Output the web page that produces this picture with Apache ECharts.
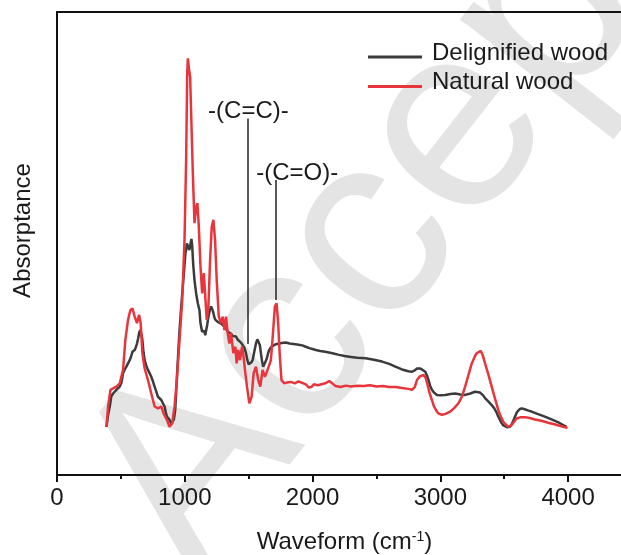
<!DOCTYPE html>
<html>
<head>
<meta charset="utf-8">
<script src="https://cdn.jsdelivr.net/npm/echarts@6/dist/echarts.min.js"></script>
<style>
  html, body { margin: 0; padding: 0; background: #fff; overflow: hidden; }
  #chart { width: 621px; height: 555px; }
</style>
</head>
<body>
<div id="chart"></div>
<script>
// FTIR absorptance spectra (arbitrary units, 0-100 scale)
const delignifiedWavenumber = [
  387, 400, 413, 425, 439, 452, 465, 478, 491, 505, 517, 530, 543, 556, 569, 580, 590, 600, 608, 617,
  626, 635, 642, 652, 660, 668, 677, 686, 700, 712, 725, 738, 750, 764, 777, 790, 803, 816, 830, 842,
  852, 860, 870, 881, 894, 905, 915, 925, 932, 940, 950, 959, 970, 980, 993, 1005, 1010, 1016, 1022, 1029,
  1036, 1044, 1052, 1058, 1066, 1076, 1089, 1102, 1115, 1122, 1128, 1135, 1141, 1148, 1154, 1160, 1167, 1176, 1185, 1195,
  1206, 1215, 1224, 1232, 1240, 1250, 1262, 1275, 1290, 1305, 1320, 1335, 1349, 1362, 1375, 1390, 1401, 1415, 1428, 1440,
  1453, 1466, 1479, 1490, 1500, 1510, 1520, 1531, 1545, 1557, 1568, 1578, 1588, 1596, 1605, 1614, 1625, 1640, 1652, 1661,
  1675, 1690, 1700, 1720, 1739, 1760, 1790, 1820, 1850, 1880, 1900, 1920, 1947, 1975, 2000, 2025, 2060, 2100, 2155, 2200,
  2250, 2300, 2350, 2415, 2480, 2544, 2600, 2648, 2700, 2750, 2778, 2800, 2817, 2840, 2856, 2870, 2882, 2895, 2908, 2920,
  2934, 2950, 2973, 3000, 3038, 3080, 3116, 3155, 3194, 3235, 3272, 3311, 3335, 3350, 3375, 3402, 3420, 3440, 3454, 3467,
  3480, 3493, 3506, 3525, 3545, 3560, 3572, 3584, 3600, 3620, 3636, 3660, 3690, 3714, 3760, 3818, 3870, 3920, 3961, 3987
];
const delignifiedAbs = [
  10.4, 13.0, 14.8, 17.0, 17.6, 18.0, 18.4, 18.6, 19.1, 20.0, 22.0, 22.8, 23.4, 23.8, 24.8, 25.6, 26.6, 26.8, 27.0, 27.6,
  28.4, 29.5, 30.6, 31.3, 30.5, 29.2, 26.5, 24.8, 23.5, 22.7, 22.0, 21.2, 20.3, 19.1, 18.0, 16.9, 16.5, 16.2, 16.4, 14.8,
  13.5, 12.6, 12.3, 11.9, 11.0, 11.2, 12.0, 14.0, 17.5, 22.0, 27.0, 31.3, 35.5, 39.2, 43.6, 47.9, 48.5, 50.0, 50.4, 49.6,
  48.6, 49.8, 51.0, 49.5, 45.5, 42.1, 39.2, 37.1, 35.6, 33.0, 32.0, 31.0, 30.6, 31.2, 31.1, 30.2, 30.6, 32.5, 34.2, 35.5,
  36.4, 35.8, 35.0, 34.0, 33.5, 33.8, 33.0, 33.3, 32.6, 32.2, 31.8, 31.0, 30.8, 30.5, 30.0, 29.8, 29.9, 29.2, 28.8, 28.6,
  28.4, 27.5, 26.3, 24.8, 23.9, 23.8, 24.3, 24.8, 26.8, 28.4, 29.3, 29.5, 28.0, 26.3, 24.5, 23.4, 23.6, 25.0, 26.3, 27.0,
  27.6, 27.9, 28.1, 28.3, 28.4, 28.5, 28.6, 28.4, 28.3, 28.2, 28.1, 28.0, 27.7, 27.4, 27.2, 27.0, 26.8, 26.6, 26.3, 26.0,
  25.7, 25.5, 25.3, 25.2, 24.9, 24.5, 24.0, 23.4, 22.8, 22.4, 22.3, 22.6, 23.0, 23.0, 22.8, 23.2, 22.3, 21.5, 20.5, 19.3,
  18.4, 17.8, 17.3, 17.2, 17.3, 17.5, 17.6, 17.4, 17.3, 17.6, 18.0, 17.8, 17.2, 16.6, 15.9, 15.1, 14.5, 13.5, 12.6, 12.2,
  11.2, 10.7, 10.4, 10.3, 10.4, 11.0, 11.8, 12.6, 13.6, 14.2, 14.4, 14.2, 13.9, 13.7, 13.2, 12.6, 12.0, 11.4, 10.8, 10.4
];

const naturalWavenumber = [
  387, 400, 418, 439, 465, 491, 517, 535, 556, 574, 590, 608, 626, 642, 655, 668, 686, 712, 738, 764,
  790, 816, 834, 860, 881, 902, 920, 938, 959, 980, 998, 1011, 1019, 1024, 1034, 1042, 1052, 1063, 1076, 1089,
  1099, 1110, 1123, 1136, 1149, 1159, 1172, 1185, 1198, 1211, 1224, 1237, 1250, 1266, 1284, 1297, 1310, 1323, 1336, 1349,
  1362, 1380, 1396, 1406, 1419, 1432, 1448, 1460, 1474, 1487, 1505, 1523, 1539, 1557, 1575, 1591, 1609, 1627, 1648, 1674,
  1692, 1705, 1718, 1731, 1744, 1757, 1778, 1800, 1830, 1860, 1890, 1920, 1950, 1970, 1990, 2010, 2040, 2070, 2100, 2130,
  2150, 2180, 2220, 2260, 2300, 2350, 2400, 2450, 2500, 2550, 2600, 2650, 2700, 2750, 2778, 2800, 2817, 2840, 2869, 2885,
  2900, 2915, 2934, 2950, 2973, 2990, 3012, 3040, 3077, 3110, 3142, 3170, 3194, 3220, 3246, 3270, 3285, 3316, 3333, 3350,
  3375, 3402, 3428, 3454, 3475, 3493, 3512, 3532, 3558, 3580, 3597, 3630, 3662, 3700, 3740, 3790, 3844, 3900, 3974, 3995
];
const naturalAbs = [
  10.4, 14.8, 18.4, 18.7, 19.1, 19.8, 22.7, 29.2, 33.5, 35.6, 36.0, 34.2, 32.8, 34.6, 32.8, 26.3, 23.0, 20.5, 17.6, 14.8,
  14.4, 14.8, 13.3, 11.9, 10.4, 11.2, 14.8, 20.5, 29.2, 37.8, 50.8, 68.7, 86.8, 90.0, 87.5, 86.0, 76.0, 65.2, 54.4, 57.9,
  58.7, 53.6, 45.0, 39.2, 43.6, 39.2, 33.5, 36.4, 46.4, 53.6, 55.1, 50.8, 42.1, 34.2, 32.8, 34.2, 31.3, 34.2, 30.6, 28.4,
  30.6, 26.3, 27.7, 24.1, 27.0, 24.8, 27.7, 25.5, 22.0, 19.1, 15.5, 16.9, 22.0, 23.4, 20.5, 19.1, 22.7, 21.2, 22.7, 24.8,
  31.3, 36.4, 37.1, 32.8, 25.5, 20.5, 19.8, 20.0, 20.1, 19.8, 20.2, 19.9, 19.5, 18.9, 19.0, 19.6, 19.4, 19.6, 19.8, 20.3,
  19.9, 19.2, 19.0, 19.3, 19.1, 19.3, 19.2, 19.4, 19.1, 19.2, 19.0, 19.0, 18.8, 18.6, 18.4, 19.0, 20.5, 21.3, 21.6, 21.0,
  19.5, 17.8, 16.2, 14.8, 13.7, 13.2, 13.0, 13.2, 13.7, 14.5, 15.5, 17.0, 19.1, 21.6, 24.1, 25.6, 26.3, 26.8, 25.8, 24.1,
  21.8, 19.1, 16.5, 14.0, 12.5, 11.5, 10.9, 10.4, 10.8, 11.6, 12.2, 12.5, 12.5, 12.3, 12.0, 11.7, 11.3, 10.9, 10.3, 10.2
];

// Band markers: wavenumber, top and bottom of the guide line, label text
const bandWavenumbers = [1490, 1715];
const bandTops = [77.0, 63.7];
const bandBottoms = [28.3, 37.8];
const bandLabels = ['-(C=C)-', '-(C=O)-'];

const xMajorTicks = [0, 1000, 2000, 3000, 4000];

const FONT = 'Liberation Sans, Arial, Helvetica, sans-serif';
const BLACK = '#3b3b3b';
const RED = '#e8353b';
const INK = '#1a1a1a';

function pairs(xs, ys) { return xs.map((x, i) => [x, ys[i]]); }

const bandMarks = bandWavenumbers.map((w, i) => [
  { coord: [w, bandTops[i]], label: { formatter: bandLabels[i], offset: i === 1 ? [21, 0] : [1, 0] } },
  { coord: [w, bandBottoms[i]] }
]);

// Diagonal "Accepted" stamp behind the plot, placed by the centre of its first "c"
const stampAngle = 52 * Math.PI / 180;
const stampSize = 265;
const stampFirstC = [295, 352];
const bx = Math.cos(stampAngle), by = -Math.sin(stampAngle);
const ux = -Math.sin(stampAngle), uy = -Math.cos(stampAngle);
const baseX = stampFirstC[0] - 0.917 * stampSize * bx - 0.26 * stampSize * ux;
const baseY = stampFirstC[1] - 0.917 * stampSize * by - 0.26 * stampSize * uy;
const dropToBottom = 0.21 * stampSize;

const chart = echarts.init(document.getElementById('chart'), null, { renderer: 'canvas' });

const axisInk = { color: '#111', width: 2 };

chart.setOption({
  animation: false,
  backgroundColor: '#fff',
  textStyle: { fontFamily: FONT },
  grid: { left: 57, width: 575, top: 12, bottom: 80, containLabel: false, outerBoundsMode: 'none' },
  graphic: [{
    type: 'text',
    z: -10,
    x: baseX - ux * dropToBottom,
    y: baseY - uy * dropToBottom,
    rotation: stampAngle,
    style: {
      text: 'Accepted',
      fontSize: stampSize,
      fontFamily: FONT,
      fill: '#e4e4e4',
      verticalAlign: 'bottom'
    }
  }],
  legend: {
    orient: 'vertical',
    left: 368, top: 41, padding: 0,
    icon: 'path://M0,0L0.01,0M0,8L54,8L54,11L0,11Z',
    itemWidth: 54, itemHeight: 11, itemGap: 5.5,
    textStyle: { fontSize: 24, color: INK, fontFamily: FONT, padding: [0, 0, 0, 5] },
    data: ['Delignified wood', 'Natural wood']
  },
  xAxis: [{
    type: 'value', position: 'bottom',
    min: 0, max: 4500, interval: 1000,
    name: '{a|Waveform (cm}{s|-1}{a|)}',
    nameLocation: 'middle', nameGap: 55,
    nameTextStyle: {
      rich: {
        a: { fontSize: 24, color: INK, fontFamily: FONT },
        s: { fontSize: 14, color: INK, fontFamily: FONT, verticalAlign: 'top', padding: [0, 0, 8, 0] }
      }
    },
    axisLine: { show: true, onZero: false, lineStyle: axisInk },
    axisTick: { show: true, inside: false, length: 7, lineStyle: axisInk },
    axisLabel: {
      fontSize: 24, color: INK, margin: 11, fontFamily: FONT, showMaxLabel: false,
      formatter: v => (xMajorTicks.indexOf(v) >= 0 ? String(v) : '')
    },
    splitLine: { show: false }
  }, {
    type: 'value', position: 'top',
    min: 0, max: 4500,
    axisLine: { show: true, onZero: false, lineStyle: axisInk },
    axisTick: { show: false }, axisLabel: { show: false }, splitLine: { show: false }
  }, {
    // half-step ticks along the bottom edge
    type: 'value', position: 'bottom',
    min: 0, max: 4500, interval: 500,
    axisLine: { show: false, onZero: false },
    axisTick: { show: true, inside: false, length: 4, lineStyle: axisInk },
    axisLabel: { show: false }, splitLine: { show: false }
  }],
  yAxis: {
    type: 'value', min: 0, max: 100,
    name: 'Absorptance', nameLocation: 'middle', nameGap: 22,
    nameTextStyle: { fontSize: 24, color: INK, fontFamily: FONT, padding: [0, 0, 0, 26] },
    axisLine: { show: true, onZero: false, lineStyle: axisInk },
    axisTick: { show: false }, axisLabel: { show: false }, splitLine: { show: false }
  },
  series: [{
    name: 'Delignified wood', type: 'line', symbol: 'none', xAxisIndex: 0,
    lineStyle: { color: BLACK, width: 2.5 }, itemStyle: { color: BLACK },
    data: pairs(delignifiedWavenumber, delignifiedAbs)
  }, {
    name: 'Natural wood', type: 'line', symbol: 'none', xAxisIndex: 0,
    lineStyle: { color: RED, width: 2.5 }, itemStyle: { color: RED },
    data: pairs(naturalWavenumber, naturalAbs),
    markLine: {
      silent: true, symbol: ['none', 'none'], animation: false,
      lineStyle: { color: '#222', width: 1.5, type: 'solid' },
      label: { show: true, position: 'start', fontSize: 24, color: INK, fontFamily: FONT, distance: -5 },
      data: bandMarks
    }
  }]
});
</script>
</body>
</html>
